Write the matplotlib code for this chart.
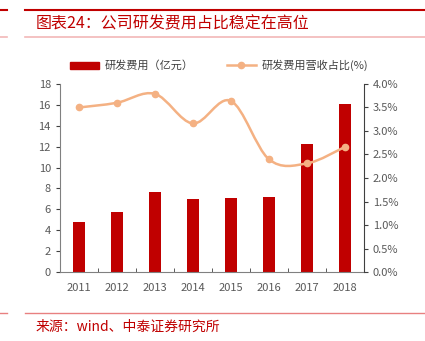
import numpy as np
import matplotlib.pyplot as plt
from matplotlib.path import Path
from matplotlib.patches import PathPatch, Patch
from matplotlib.lines import Line2D
from matplotlib.ticker import FuncFormatter

plt.rcParams['font.family'] = ['Noto Sans CJK SC', 'DejaVu Sans']

years = ['2011', '2012', '2013', '2014', '2015', '2016', '2017', '2018']
rd_cost = [4.8, 5.7, 7.7, 7.0, 7.1, 7.2, 12.3, 16.1]
rd_ratio = [0.035, 0.036, 0.0379, 0.0316, 0.0364, 0.024, 0.0231, 0.0266]

bar_color = '#C00000'
line_color = '#F4B183'
grey = '#595959'


def smooth_path(xs, ys, t=0.25):
    # cubic bezier segments through the points (Catmull-Rom style)
    verts = [(xs[0], ys[0])]
    codes = [Path.MOVETO]
    n = len(xs)
    for i in range(n - 1):
        x0, y0 = (xs[i - 1], ys[i - 1]) if i > 0 else (xs[i], ys[i])
        x3, y3 = (xs[i + 2], ys[i + 2]) if i + 2 < n else (xs[i + 1], ys[i + 1])
        c1 = (xs[i] + (xs[i + 1] - x0) * t / 1.5, ys[i] + (ys[i + 1] - y0) * t / 1.5)
        c2 = (xs[i + 1] - (x3 - xs[i]) * t / 1.5, ys[i + 1] - (y3 - ys[i]) * t / 1.5)
        verts += [c1, c2, (xs[i + 1], ys[i + 1])]
        codes += [Path.CURVE4] * 3
    return Path(verts, codes)


fig = plt.figure(figsize=(4.25, 3.41), dpi=100)
ax = fig.add_axes([0.141, 0.2023, 0.715, 0.5514])
x = np.arange(len(years))
ax.bar(x, rd_cost, width=0.32, color=bar_color, zorder=2)
ax.set_ylim(0, 18)
ax.set_yticks(range(0, 19, 2))
ax.set_xlim(-0.5, len(years) - 0.5)
ax.set_xticks(x)
ax.set_xticklabels(years)
ax.set_xticks(np.arange(-0.5, len(years), 1), minor=True)
ax.tick_params(axis='x', which='major', length=0, pad=8, labelsize=8, labelcolor=grey)
ax.tick_params(axis='x', which='minor', length=3, direction='in', color='#404040')
ax.tick_params(axis='y', length=3, direction='out', labelsize=8, labelcolor=grey, color='#404040')
for s in ['top', 'right']:
    ax.spines[s].set_visible(False)
ax.spines['left'].set_color('#808080')
ax.spines['bottom'].set_color('#808080')

ax2 = ax.twinx()
ax2.set_ylim(0, 0.04)
ax2.set_yticks(np.arange(0, 0.0401, 0.005))
ax2.yaxis.set_major_formatter(FuncFormatter(lambda v, p: '{:.1f}%'.format(v * 100)))
ax2.tick_params(axis='y', length=3, direction='out', labelsize=8, labelcolor=grey, color='#404040')
for s in ['top', 'left', 'bottom']:
    ax2.spines[s].set_visible(False)
ax2.spines['right'].set_color('#404040')
ax2.add_patch(PathPatch(smooth_path(list(x), rd_ratio), facecolor='none',
                        edgecolor=line_color, lw=1.8, zorder=3))
ax2.plot(x, rd_ratio, 'o', color=line_color, ms=4.5, zorder=4)

handles = [Patch(color=bar_color),
           Line2D([0], [0], color=line_color, lw=1.8, marker='o', ms=4.5)]
fig.legend(handles, ['研发费用（亿元）', '研发费用营收占比(%)'], loc='center',
           bbox_to_anchor=(0.515, 0.808), ncol=2, frameon=False, fontsize=8,
           handlelength=2.6, handleheight=0.6, handletextpad=0.5, columnspacing=3.0,
           labelcolor='#404040')

# header and footer decoration
fig.add_artist(Line2D([25 / 425, 1], [1 - 10 / 341] * 2, color='#C00000', lw=1.5))
fig.add_artist(Line2D([0, 7 / 425], [1 - 10 / 341] * 2, color='#C00000', lw=1.5))
fig.add_artist(Line2D([25 / 425, 1], [1 - 37 / 341] * 2, color='#F2B8B8', lw=1.2))
fig.add_artist(Line2D([0, 7 / 425], [1 - 37 / 341] * 2, color='#F2B8B8', lw=1.2))
fig.text(36 / 425, 1 - 24 / 341, '图表24：公司研发费用占比稳定在高位', color='#C00000',
         fontsize=11.5, va='center', ha='left')
fig.add_artist(Line2D([25 / 425, 1], [1 - 313 / 341] * 2, color='#E88080', lw=1))
fig.add_artist(Line2D([0, 7 / 425], [1 - 313 / 341] * 2, color='#E88080', lw=1))
fig.text(36 / 425, 1 - 327 / 341, '来源：wind、中泰证券研究所', color='#C00000',
         fontsize=10, va='center', ha='left')

fig.savefig('out.png', dpi=100)
